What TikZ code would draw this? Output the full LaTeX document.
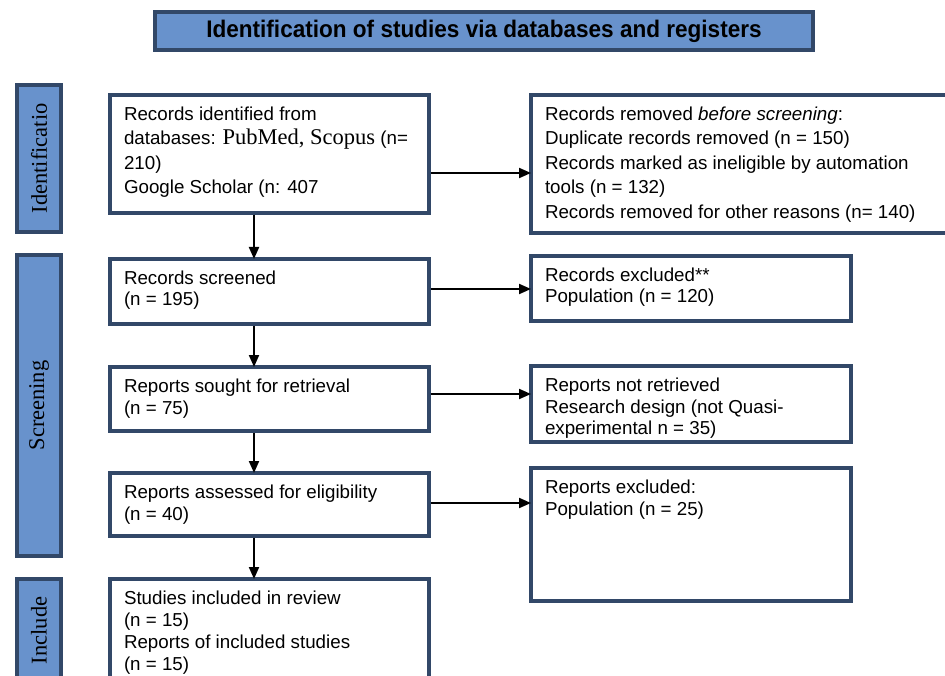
\documentclass[tikz,border=0pt]{standalone}
\usepackage{fontspec}
\setmainfont{Liberation Sans}
\newfontfamily\serifface{Liberation Serif}
\newfontfamily\titleface{Liberation Sans}[FakeStretch=0.94]
\usepackage{tikz}
\usetikzlibrary{arrows.meta,positioning}
\definecolor{prismaline}{RGB}{50,72,104}
\definecolor{prismafill}{RGB}{104,146,204}
\newcommand{\boxtext}[4][21.5pt]{\parbox[c][#3][t]{#2}{\fontsize{18.75}{#1}\selectfont\raggedright\leftskip=14pt\rule{0pt}{25.5pt}#4}}

\begin{document}
\begin{tikzpicture}[
    x=1pt, y=-1pt,
    pbox/.style={draw=prismaline, line width=3.5pt, fill=white, inner sep=0pt, outer sep=0pt, anchor=north west},
    sidebar/.style={draw=prismaline, line width=3.5pt, fill=prismafill, rotate=90, minimum height=44pt, inner sep=0pt, font=\serifface\fontsize{22.5}{27}\selectfont},
    arr/.style={-{Triangle[length=12pt,width=10pt]}, line width=2pt, shorten <=1.75pt, shorten >=0pt},
]
\useasboundingbox (0,0) rectangle (945,676);
\clip (0,0) rectangle (945,676);

% Title and phases
\node (title) [draw=prismaline, line width=3.5pt, fill=prismafill, minimum width=658pt, minimum height=38pt, font=\titleface\bfseries\fontsize{24}{28}\selectfont] at (484,31) {Identification of studies via databases and registers};
\node (idlab) [sidebar, minimum width=147pt] at (39,158.5) {Identificatio};
\node (scrlab) [sidebar, minimum width=301pt] at (39,405.5) {Screening};
\node (inclab) [sidebar, minimum width=103pt] at (39,630.5) {Include};

% Main flow
\node (recid) [pbox] at (110,95) {\boxtext[24.5pt]{319pt}{118pt}{Records identified from\\databases: {\serifface\fontsize{22.5}{24.5}\selectfont PubMed, Scopus} (n=\\210)\\Google Scholar (n: 407}};
\node (recscr) [pbox] at (110,259) {\boxtext{319pt}{65pt}{Records screened\\(n = 195)}};
\node (repsou) [pbox] at (110,367) {\boxtext{319pt}{64pt}{Reports sought for retrieval\\(n = 75)}};
\node (repass) [pbox] at (110,473) {\boxtext{319pt}{63pt}{Reports assessed for eligibility\\(n = 40)}};
\node (incl) [pbox] at (110,579) {\boxtext[22pt]{319pt}{121pt}{Studies included in review\\(n = 15)\\Reports of included studies\\(n = 15)}};

% Exclusions
\node (recrem) [pbox] at (531,95) {\boxtext[24.5pt]{429pt}{138pt}{Records removed \textit{before screening}:\\Duplicate records removed (n = 150)\\Records marked as ineligible by automation\\tools (n = 132)\\Records removed for other reasons (n= 140)}};
\node (recexc) [pbox] at (531,256) {\boxtext{320pt}{65pt}{Records excluded**\\Population (n = 120)}};
\node (repnot) [pbox] at (531,366) {\boxtext{320pt}{76pt}{Reports not retrieved\\Research design (not Quasi-\\experimental n = 35)}};
\node (repexc) [pbox] at (531,468) {\boxtext{320pt}{133pt}{Reports excluded:\\Population (n = 25)}};

% Arrows
\draw[arr] ([yshift=-19pt]recid.east) -- ([yshift=-19pt]recid.east -| recrem.west);
\draw[arr] ([yshift=2.5pt]recscr.east) -- ([yshift=2.5pt]recscr.east -| recexc.west);
\draw[arr] ([yshift=5pt]repsou.east) -- ([yshift=5pt]repsou.east -| repnot.west);
\draw[arr] ([yshift=1.5pt]repass.east) -- ([yshift=1.5pt]repass.east -| repexc.west);
\draw[arr] ([xshift=-15.5pt]recid.south) -- ([xshift=-15.5pt]recid.south |- recscr.north);
\draw[arr] ([xshift=-15.5pt]recscr.south) -- ([xshift=-15.5pt]recscr.south |- repsou.north);
\draw[arr] ([xshift=-15.5pt]repsou.south) -- ([xshift=-15.5pt]repsou.south |- repass.north);
\draw[arr] ([xshift=-15.5pt]repass.south) -- ([xshift=-15.5pt]repass.south |- incl.north);
\end{tikzpicture}
\end{document}
